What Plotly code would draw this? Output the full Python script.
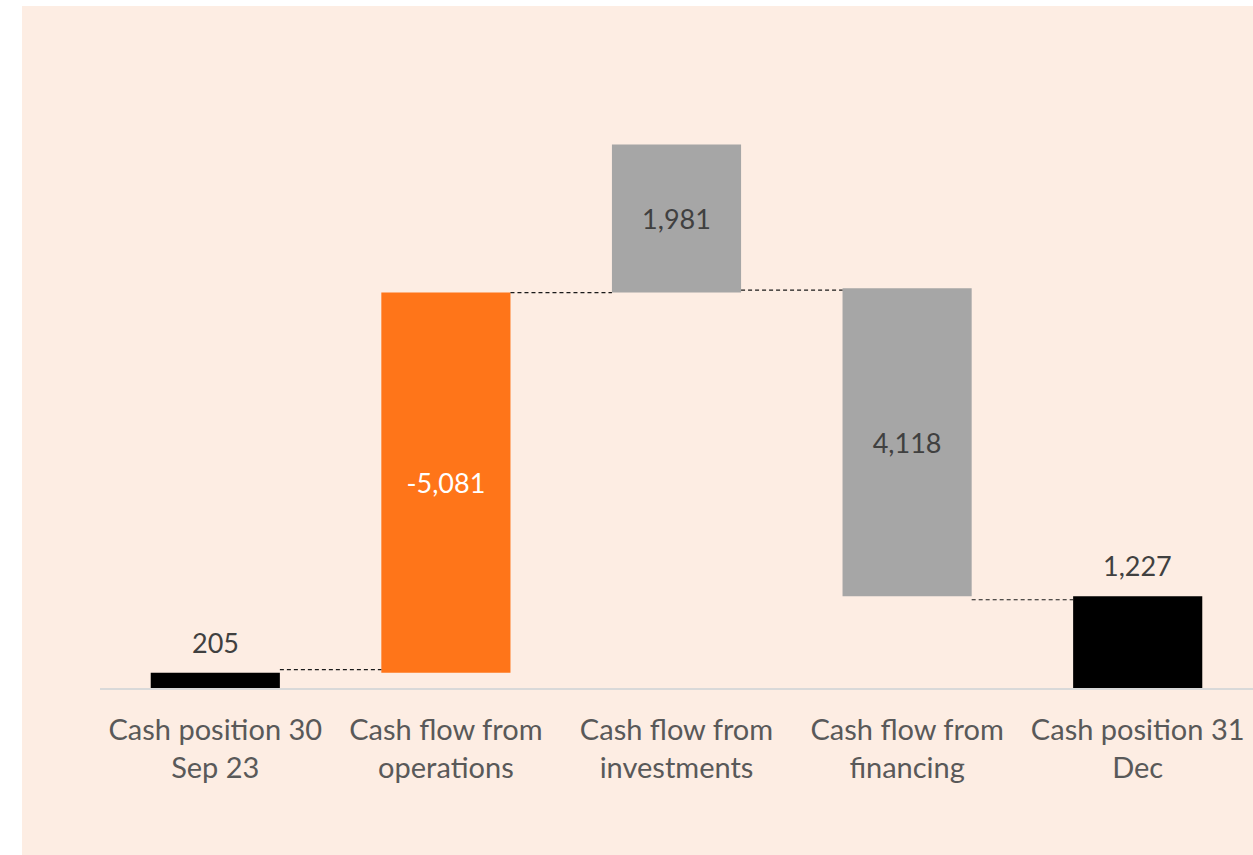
import plotly.graph_objects as go

categories = ["Cash position 30<br>Sep 23", "Cash flow from<br>operations",
              "Cash flow from<br>investments", "Cash flow from<br>financing",
              "Cash position 31<br>Dec"]
values = [205, -5081, 1981, 4118, 1227]
labels = ["205", "-5,081", "1,981", "4,118", "1,227"]
# bar bottoms as drawn in the reference (stacked-bar style waterfall)
bases = [0, 205, 205 + 5081, 1227, 0]
connector_levels = [245, 5286, 5320, 1180]

bar_colors = ["#000000", "#FF7519", "#A6A6A6", "#A6A6A6", "#000000"]
text_colors = ["#404040", "#FFFFFF", "#404040", "#404040", "#404040"]
inside = [False, True, True, True, False]

W, H = 1253, 855
ml, mr, mt, mb = 100, 0, 40, 167
px_per_unit = 0.0748
ymax = (H - mt - mb) / px_per_unit
bar_w = 0.56
x_idx = list(range(len(categories)))

fig = go.Figure()
fig.add_trace(go.Bar(
    x=x_idx, y=[abs(v) for v in values], base=bases,
    marker=dict(color=bar_colors, line=dict(width=0)),
    width=bar_w,
    text=[l if ins else "" for l, ins in zip(labels, inside)],
    textposition="inside", textangle=0, insidetextanchor="middle",
    insidetextfont=dict(family="Lato", size=27, color=text_colors),
    cliponaxis=False, hoverinfo="skip",
))

annotations = []
for i, (lbl, ins) in enumerate(zip(labels, inside)):
    if not ins:
        annotations.append(dict(x=i, y=bases[i] + abs(values[i]), xref="x", yref="y",
                                text=lbl, showarrow=False, yanchor="bottom",
                                yshift=12,
                                font=dict(family="Lato", size=27, color=text_colors[i])))

shapes = []
pw = W - ml - mr
ph = H - mt - mb
shapes.append(dict(type="rect", xref="paper", yref="paper",
                   x0=(22 - ml) / pw, x1=1.0,
                   y0=-mb / ph, y1=1 + (mt - 6) / ph,
                   fillcolor="#FDEDE3", line=dict(width=0), layer="below"))
for i, lvl in enumerate(connector_levels):
    shapes.append(dict(type="line", xref="x", yref="y",
                       x0=i + bar_w / 2, x1=i + 1 - bar_w / 2, y0=lvl, y1=lvl,
                       line=dict(color="#1a1a1a", width=1.2, dash="4px,3px"),
                       layer="above"))

fig.update_layout(
    width=W, height=H,
    margin=dict(l=ml, r=mr, t=mt, b=mb),
    paper_bgcolor="#FFFFFF", plot_bgcolor="rgba(0,0,0,0)",
    showlegend=False, shapes=shapes, annotations=annotations,
    xaxis=dict(range=[-0.5, len(categories) - 0.5], tickmode="array",
               tickvals=x_idx, ticktext=categories,
               showgrid=False, zeroline=False, showline=True,
               linecolor="#D9D9D9", linewidth=2, ticks="",
               ticklabelstandoff=15,
               tickfont=dict(family="Lato", size=29, color="#595959")),
    yaxis=dict(range=[0, ymax], visible=False, showgrid=False, zeroline=False),
)

fig.write_html("out.html", config={"displayModeBar": False},
               post_script="document.body.style.margin='0';")
